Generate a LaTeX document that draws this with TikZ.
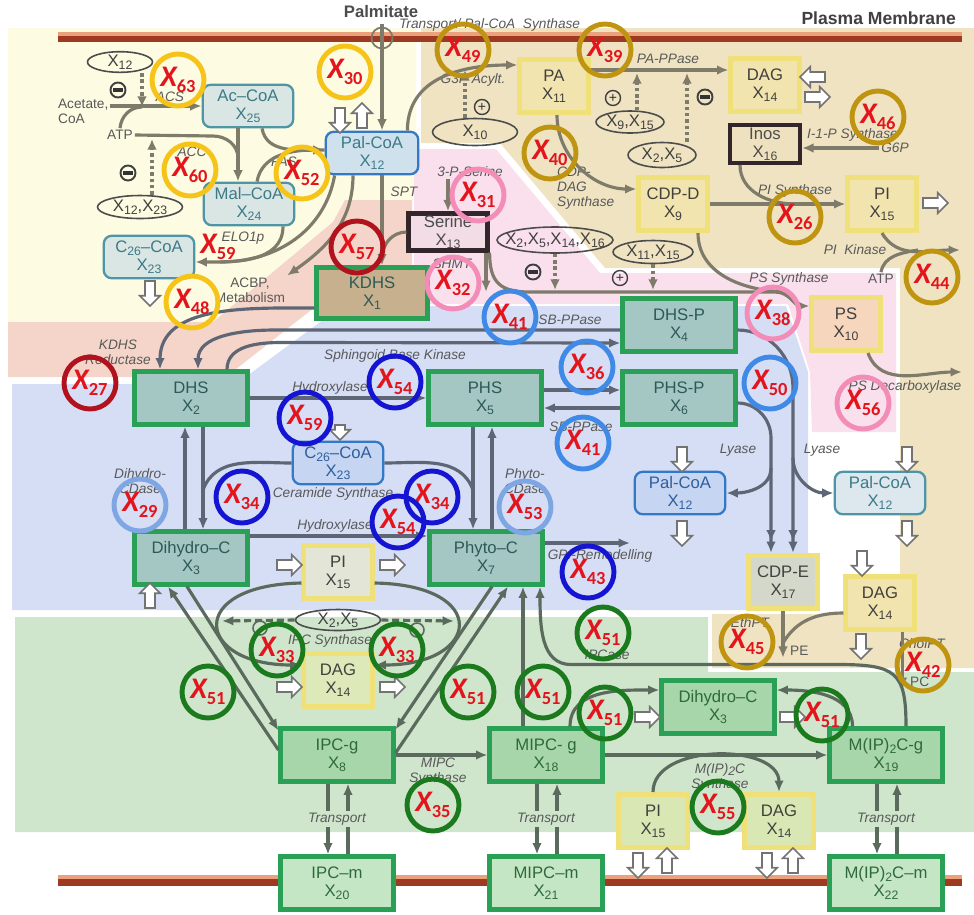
\documentclass[tikz,border=0pt]{standalone}
\usepackage{fontspec}
\setmainfont{Liberation Sans}
\newfontfamily\calfont{Carlito}
\usetikzlibrary{shapes.geometric,shapes.arrows,arrows.meta,positioning,calc}

\definecolor{bgyel}{HTML}{FDFBE1}
\definecolor{bgsal}{HTML}{F5D5C9}
\definecolor{bgtan}{HTML}{EFE3C2}
\definecolor{bgpink}{HTML}{FAE0EC}
\definecolor{bgblue}{HTML}{D5DEF5}
\definecolor{bggrn}{HTML}{CFE6CC}
\definecolor{memdark}{HTML}{9E3A22}
\definecolor{memlight}{HTML}{EBA27C}
\definecolor{grnbrd}{HTML}{2AA056}
\definecolor{grnfill}{HTML}{A5C7C4}
\definecolor{grnfill2}{HTML}{A6D6AA}
\definecolor{grnfill3}{HTML}{C4E6C4}
\definecolor{sphtxt}{HTML}{2D5A55}
\definecolor{grntxt}{HTML}{2E6A3A}
\definecolor{yelbrd}{HTML}{F0E07A}
\definecolor{yelfill}{HTML}{F2E4AE}
\definecolor{tealbrd}{HTML}{4E95A6}
\definecolor{tealfill}{HTML}{D9E6E3}
\definecolor{tealtxt}{HTML}{3C7A88}
\definecolor{bluebrd}{HTML}{3479C6}
\definecolor{bluefill}{HTML}{C6D6F2}
\definecolor{blutxt}{HTML}{2E5E9E}
\definecolor{darkbrd}{HTML}{33262A}
\definecolor{pcfill}{HTML}{CFE1EC}
\definecolor{serfill}{HTML}{F2DCE5}
\definecolor{kdfill}{HTML}{C6B08E}
\definecolor{inosfill}{HTML}{EEE1BF}
\definecolor{psfill}{HTML}{F6D6BD}
\definecolor{pifill}{HTML}{E3E5D6}
\definecolor{pc3fill}{HTML}{DCE7EE}
\definecolor{cdpefill}{HTML}{D4D8CB}
\definecolor{dag3fill}{HTML}{DDE9B9}
\definecolor{pi3fill}{HTML}{D8E7B4}
\definecolor{agray}{HTML}{7F7B6B}
\definecolor{bgray}{HTML}{5E6675}
\definecolor{ggray}{HTML}{5A6B5D}
\definecolor{xred}{HTML}{E3141C}
\definecolor{cyel}{HTML}{F6C418}
\definecolor{cgold}{HTML}{BF9410}
\definecolor{cdred}{HTML}{B0121E}
\definecolor{cpink}{HTML}{F38DB8}
\definecolor{cmblue}{HTML}{3F8AE6}
\definecolor{cdblue}{HTML}{1414D2}
\definecolor{clblue}{HTML}{7EA6E2}
\definecolor{cgrn}{HTML}{1C7A1E}

\newcommand{\sbs}[1]{\raisebox{-0.35ex}{\fontsize{7}{7}\selectfont #1}}
\newcommand{\xv}[1]{X\sbs{#1}}
\newcommand{\xlab}[1]{X\raisebox{-0.4ex}{\upshape\fontsize{10.5}{10.5}\selectfont #1}}

\tikzset{
  bfont/.style={font=\fontsize{9.5}{10.2}\selectfont},
  sbox/.style={draw=grnbrd, line width=2.6pt, fill=grnfill, minimum width=2.25cm, minimum height=1.05cm, align=center, inner sep=1pt, text=sphtxt, bfont},
  gbox/.style={sbox, fill=grnfill2, text=grntxt},
  ybox/.style={draw=yelbrd, line width=2.6pt, fill=yelfill, minimum width=1.37cm, minimum height=1.07cm, align=center, inner sep=1pt, text=black!75, bfont},
  cbox/.style={draw=tealbrd, line width=1.3pt, rounded corners=0.16cm, fill=tealfill, minimum width=1.81cm, minimum height=0.85cm, align=center, inner sep=1pt, text=tealtxt, bfont},
  dbox/.style={draw=darkbrd, line width=2.4pt, minimum width=1.58cm, minimum height=0.74cm, align=center, inner sep=1pt, text=black!70, bfont},
  oval/.style={ellipse, draw=black!70, line width=0.9pt, inner sep=0pt, text=black!75, bfont},
  lab/.style={font=\fontsize{7.8}{8.6}\selectfont\itshape, text=black!65, align=center, inner sep=1pt},
  txt/.style={font=\fontsize{7.8}{8.6}\selectfont, text=black!65, align=center, inner sep=1pt},
  sgn/.style={circle, draw=black!75, line width=1.1pt, minimum size=0.3cm, inner sep=0pt},
  negsg/.style={sgn, path picture={\fill[black!80] ($(path picture bounding box.center)+(-2.8pt,-1.2pt)$) rectangle ($(path picture bounding box.center)+(2.8pt,1.2pt)$);}},
  possg/.style={sgn, line width=0.8pt, font=\fontsize{8}{8}\selectfont, text=black!80},
  hol/.style={single arrow, draw=black!55, fill=white, line width=0.9pt, inner sep=2.4pt, minimum height=0.5cm, single arrow head extend=3pt, single arrow tip angle=90, rotate=#1},
  hol/.default=0,
  flow/.style={draw=#1, line width=1.8pt, -{Latex[length=6.5pt,width=5.5pt]}},
  flow/.default=bgray,
  flow2/.style={draw=#1, line width=1.8pt, -{Latex[length=6.5pt,width=5.5pt] Latex[length=6.5pt,width=5.5pt]}},
  flow2/.default=bgray,
  lnk/.style={draw=#1, line width=1.8pt},
  lnk/.default=bgray,
  dotflow/.style={draw=#1, line width=2.2pt, dash pattern=on 2pt off 1.6pt, -{Latex[length=6pt,width=5.5pt]}},
  dotflow/.default=agray,
  dashflow/.style={draw=#1, line width=1.8pt, dash pattern=on 4pt off 2.2pt, -{Latex[length=6.5pt,width=5.5pt]}},
  dashflow/.default=ggray,
  ring/.style={circle, draw=#1, line width=2.8pt, minimum size=1.04cm, inner sep=0pt, text=xred, font=\calfont\bfseries\itshape\fontsize{17}{17}\selectfont},
}

\begin{document}
\begin{tikzpicture}[x=0.02cm,y=-0.02cm]
\useasboundingbox (0,0) rectangle (974,914);

% compartments
\fill[bgyel] (8,28) -- (416,28) -- (416,200) -- (345,200) -- (333,222) -- (213,322) -- (8,322) -- cycle;
\fill[bgsal] (8,322) -- (213,322) -- (333,222) -- (345,200) -- (412,200) -- (412,268) -- (334,292) -- (226,377) -- (8,377) -- cycle;
\fill[bgtan] (421,28) -- (974,28) -- (974,668) -- (712,668) -- (712,614) -- (900,614) -- (900,268) -- (605,268) -- (500,143) -- (421,143) -- cycle;
\fill[bgpink] (414,149) -- (496,149) -- (600,273) -- (896,273) -- (896,432) -- (812,432) -- (810,372) -- (788,304) -- (414,304) -- cycle;
\fill[bgblue] (12,384) -- (236,384) -- (342,306) -- (786,306) -- (808,372) -- (808,610) -- (12,610) -- cycle;
\fill[bggrn] (15,617) -- (708,617) -- (708,672) -- (974,672) -- (974,832) -- (15,832) -- cycle;

% membranes
\draw[memlight, line width=2pt] (58,34) -- (962,34);
\draw[memdark, line width=3.5pt] (58,39) -- (962,39);
\draw[memlight, line width=2pt] (58,877) -- (962,877);
\draw[memdark, line width=4pt] (58,882) -- (962,882);

\node[font=\bfseries\fontsize{9.5}{10}\selectfont, text=black!70] (palm) at (381,12) {Palmitate};
\node[font=\bfseries\fontsize{10}{11}\selectfont, text=black!75, anchor=east] (pm) at (962,18) {Plasma Membrane};
\node[lab, anchor=west] (tps) at (397,25) {Transport/ Pal-CoA\ \ Synthase};
\node[circle, draw=agray, line width=1pt, minimum size=0.42cm, inner sep=0pt] (pcirc) at (382,38) {};

% fatty acid part
\node[oval, minimum width=1.3cm, minimum height=0.38cm] (e12) at (120,62) {\xv{12}};
\node[negsg] (m1) at (118,90) {};
\node[txt, align=left, anchor=west] (acet) at (56,111) {Acetate,\\CoA};
\node[txt] (atp1) at (120,135) {ATP};
\node[cbox] (acoa) at (248,106) {Ac--CoA\\\xv{25}};
\node[cbox] (mcoa) at (249,204) {Mal--CoA\\\xv{24}};
\node[cbox] (c26a) at (149,257) {C\sbs{26}--CoA\\\xv{23}};
\node[oval, minimum width=1.7cm, minimum height=0.46cm] (e1223) at (140,207) {\xv{12},\xv{23}};
\node[negsg] (m2) at (128,173) {};
\node[lab] (lacs) at (170,97) {ACS};
\node[lab] (lacc) at (192,152) {ACC};
\node[lab] (lfas) at (284,162) {FAS};
\node[lab] (lelo) at (243,238) {ELO1p};
\node[txt] (lacbp) at (250,290) {ACBP,\\Metabolism};
\node[hol=-90] (h1) at (150,291) {};
\node[cbox, draw=bluebrd, fill=pcfill, minimum width=1.85cm] (pcoa) at (372,153) {Pal-CoA\\\xv{12}};
\node[hol=-90] (h2) at (340,118) {};
\node[hol=90] (h3) at (362,118) {};
\node[lab] (lspt) at (404,192) {SPT};
\node[dbox, fill=serfill] (ser) at (448,232) {Serine\\\xv{13}};
\node[lab] (l3ps) at (470,172) {3-P-Serine};
\node[lab] (lshmt) at (452,264) {SHMT};
\node[sbox, fill=kdfill, minimum width=2.21cm, minimum height=1.01cm] (kdhs) at (372,293) {KDHS\\\xv{1}};

% glycerolipid part
\node[ybox] (pa) at (554,86) {PA\\\xv{11}};
\node[ybox] (dag1) at (765,85) {DAG\\\xv{14}};
\node[dbox, fill=inosfill, minimum width=1.40cm, minimum height=0.755cm] (inos) at (765,144) {Inos\\\xv{16}};
\node[ybox] (cdpd) at (673,204) {CDP-D\\\xv{9}};
\node[ybox] (pi1) at (882,204) {PI\\\xv{15}};
\node[ybox, fill=psfill] (ps) at (846,324) {PS\\\xv{10}};
\node[oval, minimum width=1.7cm, minimum height=0.54cm] (e10) at (475,132) {\xv{10}};
\node[possg] (p1) at (482,107) {+};
\node[lab] (lg3p) at (473,80) {G3P Acylt.};
\node[oval, minimum width=1.36cm, minimum height=0.44cm] (e915) at (630,122) {\xv{9},\xv{15}};
\node[possg] (p2) at (613,98) {+};
\node[oval, minimum width=1.36cm, minimum height=0.5cm] (e25a) at (662,155) {\xv{2},\xv{5}};
\node[negsg] (m3) at (705,97) {};
\node[lab] (lpap) at (668,59) {PA-PPase};
\node[lab, align=left, anchor=west] (lcdp) at (555,188) {CDP-\\DAG\\Synthase};
\node[lab, anchor=west] (lipsyn) at (805,135) {I-1-P Synthase};
\node[lab] (g6p) at (895,148) {G6P};
\node[lab] (lpisyn) at (795,191) {PI Synthase};
\node[hol=180] (h4) at (815,77) {};
\node[hol] (h5) at (815,97) {};
\node[hol] (h6) at (933,203) {};
\node[lab] (lpik) at (855,250) {PI\ \ Kinase};
\node[txt] (atp2) at (881,279) {ATP};
\node[lab] (lpss) at (789,279) {PS Synthase};
\node[lab] (lpsd) at (905,387) {PS Decarboxylase};
\node[oval, minimum width=2.32cm, minimum height=0.52cm, inner xsep=-8pt] (e251416) at (555,240) {\xv{2},\xv{5},\xv{14},\xv{16}};
\node[negsg] (m4) at (533,272) {};
\node[oval, minimum width=1.6cm, minimum height=0.46cm] (e1115) at (653,252) {\xv{11},\xv{15}};
\node[possg] (p3) at (620,278) {+};

% sphingolipid part
\node[sbox] (dhs) at (191,398) {DHS\\\xv{2}};
\node[sbox] (phs) at (485,398) {PHS\\\xv{5}};
\node[sbox] (dhsp) at (679,325) {DHS-P\\\xv{4}};
\node[sbox] (phsp) at (679,398) {PHS-P\\\xv{6}};
\node[sbox] (dhc) at (191,558) {Dihydro--C\\\xv{3}};
\node[sbox] (phc) at (486,558) {Phyto--C\\\xv{7}};
\node[cbox, draw=bluebrd, fill=bluefill, text=blutxt] (c26b) at (338,463) {C\sbs{26}--CoA\\\xv{23}};
\node[hol=-90, minimum height=0.3cm] (h7) at (340,430) {};
\node[ybox, fill=pifill] (pi2) at (338,572) {PI\\\xv{15}};
\node[hol] (h8) at (287,565) {};
\node[hol] (h9) at (390,565) {};
\node[hol=90] (h10) at (150,598) {};
\node[cbox, draw=bluebrd, fill=bluefill, text=blutxt] (pcoa2) at (680,493) {Pal-CoA\\\xv{12}};
\node[cbox, fill=pc3fill] (pcoa3) at (880,493) {Pal-CoA\\\xv{12}};
\node[hol=-90] (h11) at (682,457) {};
\node[hol=-90] (h12) at (682,531) {};
\node[hol=-90] (h13) at (907,457) {};
\node[hol=-90] (h14) at (907,531) {};
\node[ybox, fill=cdpefill] (cdpe) at (783,582) {CDP-E\\\xv{17}};
\node[ybox] (dag2) at (880,603) {DAG\\\xv{14}};
\node[hol=-90] (h15) at (862,561) {};
\node[hol=-90] (h16) at (861,644) {};
\node[lab] (lkdhsr) at (118,352) {KDHS\\Reductase};
\node[lab] (lsbp1) at (570,320) {SB-PPase};
\node[lab] (lsbk) at (395,356) {Sphingoid Base Kinase};
\node[lab] (lhyd1) at (330,388) {Hydroxylase};
\node[lab] (lsbp2) at (581,427) {SB-PPase};
\node[lab] (lcer) at (333,494) {Ceramide Synthase};
\node[lab] (ldcd) at (140,481) {Dihydro-\\CDase};
\node[lab] (lpcd) at (525,481) {Phyto-\\CDase};
\node[lab] (lhyd2) at (335,526) {Hydroxylase};
\node[lab] (lgpi) at (600,556) {GPI-Remodelling};
\node[lab] (llya1) at (738,450) {Lyase};
\node[lab] (llya2) at (822,450) {Lyase};
\node[lab] (lethpt) at (750,623) {EthPT};
\node[txt, anchor=west] (pe) at (788,651) {PE};
\node[lab] (lcholpt) at (922,644) {CholPT};
\node[txt, anchor=west] (pc) at (908,682) {PC};

% complex sphingolipids
\node[oval, minimum width=1.7cm, minimum height=0.42cm] (e25b) at (338,620) {\xv{2},\xv{5}};
\node[ybox, fill=dag3fill] (dag3) at (338,680) {DAG\\\xv{14}};
\node[hol] (h17) at (287,687) {};
\node[hol] (h18) at (390,687) {};
\node[circle, draw=ggray, line width=0.9pt, minimum size=0.28cm, inner sep=0pt] (s1) at (260,628) {};
\node[circle, draw=ggray, line width=0.9pt, minimum size=0.28cm, inner sep=0pt] (s2) at (417,630) {};
\node[lab] (lipcs) at (330,641) {IPC Synthase};
\node[gbox] (ipcg) at (337,755) {IPC-g\\\xv{8}};
\node[gbox] (mipcg) at (546,755) {MIPC- g\\\xv{18}};
\node[gbox] (mip2g) at (886,755) {M(IP)\sbs{2}C-g\\\xv{19}};
\node[gbox, fill=grnfill3] (ipcm) at (337,883) {IPC--m\\\xv{20}};
\node[gbox, fill=grnfill3] (mipcm) at (546,883) {MIPC--m\\\xv{21}};
\node[gbox, fill=grnfill3] (mip2m) at (886,883) {M(IP)\sbs{2}C--m\\\xv{22}};
\node[gbox] (dhc2) at (718,707) {Dihydro--C\\\xv{3}};
\node[hol] (h19) at (645,717) {};
\node[hol] (h20) at (790,717) {};
\node[ybox, fill=pi3fill] (pi3) at (653,821) {PI\\\xv{15}};
\node[ybox, fill=pi3fill] (dag4) at (779,821) {DAG\\\xv{14}};
\node[hol=-90] (h21) at (638,863) {};
\node[hol=90] (h22) at (667,863) {};
\node[hol=-90] (h23) at (767,863) {};
\node[hol=90] (h24) at (793,863) {};
\node[lab] (lipcase) at (607,655) {IPCase};
\node[lab] (lmips) at (438,772) {MIPC\\Synthase};
\node[lab] (lmip2s) at (720,777) {M(IP)\sbs{2}C\\Synthase};

% connectors, fatty acids
\coordinate (acsin) at (142,107);
\coordinate (accin) at (238,158);
\coordinate (accout) at (152,139);
\draw[dotflow] (e12.south -| acsin) -- (acsin);
\draw[flow=agray] (acet.east |- acoa) -- (acoa.west);
\draw[lnk=agray] (atp1.north) to[out=85,in=180] (acsin);
\draw[lnk=agray] (atp1.east) -- ($(accin)+(-25,-22)$) to[out=0,in=90] (accin);
\draw[dotflow] (e1223.north -| accout) -- (accout);
\draw[flow=agray] (acoa.south -| accin) -- (mcoa.north -| accin);
\draw[lnk=agray] ($(acoa.south)+(14,0)$) to[out=-80,in=180] ($(pcoa.west)+(0,-3)$);
\draw[flow=agray] ($(mcoa.north)+(8,0)$) to[out=80,in=180] ($(pcoa.west)+(0,-3)$);
\draw[flow=agray] ($(mcoa.south)+(34,0)$) to[out=-90,in=0] ($(c26a.east)+(0,5)$);
\draw[lnk=agray] ($(pcoa.south west)+(10,0)$) to[out=-100,in=0] ($(c26a.east)+(25,5)$);
\draw[flow=agray] ($(pcoa.south)+(-19,0)$) to[out=-90,in=35] (lacbp.north east);
\draw[flow=agray] (palm.south -| pcirc) -- (pcoa.north -| pcirc);
\draw[flow=agray] ($(pcoa.south)+(10,0)$) -- ($(kdhs.north)+(10,0)$);
\coordinate (sptin) at (382,258);
\draw[lnk=agray] (ser.west) to[out=180,in=90] (sptin);
\draw[flow=agray] (l3ps.south -| ser.north) -- (ser.north);
\coordinate (cshmt) at (486,292);
\draw[flow=agray] (ser.south -| cshmt) -- (cshmt);

% connectors, glycerolipids
\coordinate (psa) at (530,292);
\coordinate (psb) at (775,292);
\coordinate (psjoin) at (790,292);
\coordinate (psl1) at (555,290);
\coordinate (psl2) at (653,290);
\draw[flow=agray] (ser.south east) .. controls +(0,30) and +(-30,0) .. (psa) -- (psb) to[out=0,in=180] ($(ps.west)+(0,-18)$);
\draw[lnk=agray] ($(cdpd.south)+(25,0)$) to[out=-90,in=180] (psjoin);
\draw[dotflow] (e251416.south) -- (psl1);
\draw[dotflow] (e1115.south) -- (psl2);
\coordinate (g3pin) at (465,70);
\draw[flow=agray] ($(pcoa.north east)+(-12,0)$) .. controls +(0,-60) and +(-40,0) .. ($(pa.west)+(0,-21)$);
\draw[dotflow] (e10.north -| g3pin) -- (g3pin);
\draw[flow=agray] ($(pa.east)+(0,-16)$) -- ($(dag1.west)+(0,-15)$);
\coordinate (pap1) at (637,73);
\coordinate (pap2) at (687,73);
\draw[dotflow] (e915.north -| pap1) -- (pap1);
\draw[dotflow] (e25a.north -| pap2) -- (pap2);
\draw[flow=agray] ($(pa.south)+(3,0)$) to[out=-90,in=180] ($(cdpd.west)+(0,-15)$);
\draw[flow=agray] (g6p.west) -- (inos.east |- g6p.west);
\draw[flow=agray] (cdpd.east) -- (pi1.west);
\coordinate (pisjoin) at (795,204);
\draw[lnk=agray] ($(inos.south)+(-25,0)$) to[out=-90,in=180] (pisjoin);
\coordinate (cpik) at (960,250);
\coordinate (pikjoin) at (918,250);
\draw[flow=agray] (pi1.south) to[out=-60,in=180] (cpik);
\draw[lnk=agray] (atp2.north) to[out=80,in=190] (pikjoin);
\coordinate (cpsd) at (962,372);
\draw[flow=agray] ($(ps.south)+(22,0)$) to[out=-70,in=180] (cpsd);

% connectors, sphingoid bases and ceramides
\draw[flow] ($(kdhs.west)+(0,15)$) to[out=180,in=90] ($(dhs.north)+(-31,0)$);
\draw[flow] ($(dhsp.west)+(0,5)$) -- ++(-345,0) to[out=180,in=90] ($(dhs.north)+(7,0)$);
\draw[flow] ($(dhs.north)+(36,0)$) to[out=90,in=180] ++(55,-27) -- ($(dhsp.west)+(0,18)$);
\draw[flow] (dhs.east) -- (phs.west);
\draw[flow] ($(phs.east)+(0,-8)$) -- ($(phsp.west)+(0,-8)$);
\draw[flow] ($(phsp.west)+(0,10)$) -- ($(phs.east)+(0,10)$);
\draw[flow] ($(dhc.north)+(-6,0)$) -- ($(dhs.south)+(-6,0)$);
\draw[flow] ($(dhs.south)+(12,0)$) -- ($(dhc.north)+(12,0)$);
\draw[flow] ($(phs.south)+(-12,0)$) -- ($(phc.north)+(-13,0)$);
\draw[flow] ($(phc.north)+(6,0)$) -- ($(phs.south)+(7,0)$);
\draw[flow] ($(dhc.east)+(0,-22)$) -- ($(phc.west)+(0,-22)$);
\coordinate (cerl) at (203,490);
\coordinate (cerr) at (473,490);
\draw[lnk] (c26b.west) to[out=180,in=70] (cerl);
\draw[lnk] (c26b.east) to[out=0,in=110] (cerr);
\coordinate (cgpi) at (630,543);
\draw[flow] ($(phc.east)+(0,-15)$) -- (cgpi);
\draw[flow2] ($(dhsp.east)+(0,5)$) to[out=0,in=90] ($(cdpe.north)+(10,-165)$) -- ($(cdpe.north)+(10,0)$);
\draw[flow] ($(cdpe.north)+(10,-95)$) to[out=-90,in=180] (pcoa3.west);
\draw[flow2] ($(phsp.east)+(0,5)$) to[out=0,in=90] ($(cdpe.north)+(-12,-115)$) -- ($(cdpe.north)+(-12,0)$);
\draw[flow] ($(cdpe.north)+(-12,-85)$) to[out=-90,in=0] (pcoa2.east);
\draw[flow=agray] (cdpe.south) -- (cdpe.south |- pe.south);
\coordinate (ethj) at ($(cdpe.south)+(0,32)$);
\draw[lnk=agray] ($(dag2.west)+(0,10)$) to[out=180,in=60] (ethj);
\coordinate (cpc) at ($(dag2.south east)+(-14,0)$);
\draw[flow=agray] (cpc) -- (cpc |- pc.south);

% connectors, complex sphingolipids
\draw[flow=ggray] ($(pi2.west)+(0,11)$) .. controls (185,585) and (195,665) .. ($(dag3.west)+(0,-15)$);
\draw[flow=ggray] ($(pi2.east)+(0,11)$) .. controls (491,585) and (481,665) .. ($(dag3.east)+(0,-15)$);
\coordinate (cipl) at (222,621);
\coordinate (cipr) at (454,621);
\draw[dashflow] (e25b.west) -- (cipl);
\draw[dashflow] (e25b.east) -- (cipr);
\draw[flow=ggray] ($(ipcg.west)+(0,-5)$) -- ($(dhc.south)+(-23,0)$);
\draw[flow=ggray] ($(dhc.south)+(-4,0)$) -- ($(ipcg.north west)+(0,4)$);
\draw[flow=ggray] ($(ipcg.east)+(0,-2)$) -- ($(phc.south)+(22,0)$);
\draw[flow=ggray] ($(phc.south)+(6,0)$) -- ($(ipcg.north east)+(0,3)$);
\draw[flow=ggray] ($(mipcg.north)+(-23,0)$) -- ($(phc.south)+(37,0)$);
\draw[flow=ggray] ($(mip2g.north)+(20,0)$) .. controls +(0,-55) and +(60,0) .. ($(mip2g.north)+(-50,-62)$) -- ($(phc.south)+(85,78)$) .. controls +(-30,0) and +(0,40) .. ($(phc.south)+(54,0)$);
\draw[flow=ggray] ($(mipcg.north)+(24,0)$) to[out=90,in=180] ($(dhc2.west)+(0,-17)$);
\draw[flow=ggray] ($(mip2g.north west)+(25,0)$) to[out=90,in=0] ($(dhc2.east)+(0,-17)$);
\draw[flow=ggray] (ipcg.east) -- (mipcg.west);
\draw[flow=ggray] (mipcg.east) -- (mip2g.west);
\draw[flow=ggray] (pi3.north) to[out=90,in=90] (dag4.north);
\foreach \g/\m [count=\i] in {ipcg/ipcm,mipcg/mipcm,mip2g/mip2m} {
  \draw[flow=ggray] ($(\g.south)+(-9,0)$) -- ($(\m.north)+(-9,0)$);
  \draw[flow=ggray] ($(\m.north)+(11,0)$) -- ($(\g.south)+(11,0)$);
  \node[lab, fill=bggrn] (ltr\i) at ($(\g.south)!0.5!(\m.north)$) {Transport};
}

% model parameters
\node[text=xred, font=\calfont\bfseries\itshape\fontsize{17}{17}\selectfont, inner sep=0pt] (x59t) at (218,247) {\xlab{59}};
\foreach \lab/\cx/\cy/\col [count=\i] in {
  63/178/80/cyel, 30/345/72/cyel, 60/190/170/cyel, 52/302/173/cyel, 48/192/302/cyel,
  49/463/50/cgold, 39/605/50/cgold, 40/550/153/cgold, 46/878/117/cgold, 26/795/217/cgold,
  44/932/277/cgold, 45/747/642/cgold, 42/923/665/cgold,
  57/357/247/cdred, 27/90/383/cdred,
  31/478/195/cpink, 32/453/283/cpink, 38/773/313/cpink, 56/863/403/cpink,
  41/510/317/cmblue, 36/587/367/cmblue, 50/770/383/cmblue, 41/583/443/cmblue,
  54/395/382/cdblue, 59/305/418/cdblue, 34/242/497/cdblue, 34/432/497/cdblue,
  54/398/522/cdblue, 43/588/572/cdblue,
  29/140/505/clblue, 53/525/507/clblue,
  33/277/650/cgrn, 33/397/650/cgrn, 51/208/692/cgrn, 51/468/692/cgrn, 51/543/692/cgrn,
  51/603/633/cgrn, 51/605/713/cgrn, 51/822/715/cgrn, 35/433/805/cgrn, 55/718/807/cgrn} {
  \node[ring=\col] (ring\i) at (\cx,\cy) {\xlab{\lab}};
}
\end{tikzpicture}
\end{document}
